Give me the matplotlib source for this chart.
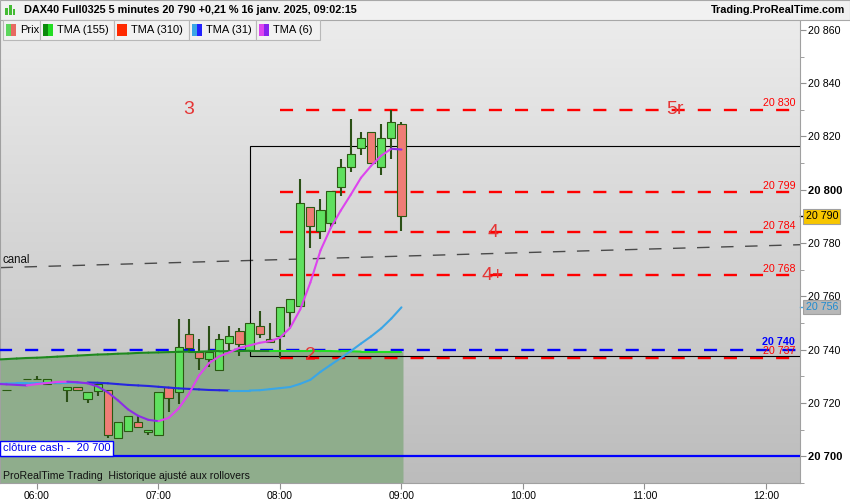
import matplotlib.pyplot as plt
import numpy as np
from matplotlib.patches import Rectangle
from matplotlib.transforms import blended_transform_factory

plt.rcParams['font.family'] = ['Liberation Sans', 'DejaVu Sans']
plt.rcParams['lines.scale_dashes'] = False

# 5 minute candles (DAX40 Full0325, 16 janv. 2025)
times = ['05:45', '05:55', '06:00', '06:05', '06:10', '06:15', '06:20', '06:25',
         '06:30', '06:35', '06:40', '06:45', '06:50', '06:55', '07:00', '07:05',
         '07:10', '07:15', '07:20', '07:25', '07:30', '07:35', '07:40', '07:45',
         '07:50', '07:55', '08:00', '08:05', '08:10', '08:15', '08:20', '08:25',
         '08:30', '08:35', '08:40', '08:45', '08:50', '08:55', '09:00']
opens = [20725, 20729, 20729, 20727, 20727.5, 20725, 20726, 20721.5,
         20724.5, 20725, 20707, 20709.5, 20713, 20709, 20708, 20726,
         20724, 20746, 20739, 20736.5, 20732.5, 20742.5, 20747, 20740,
         20749, 20744, 20745, 20754, 20756.5, 20793.5, 20784.5, 20787.5,
         20801, 20808.5, 20815.5, 20821.5, 20808.5, 20819.5, 20824.5]
highs = [20725, 20729, 20730, 20729, 20727.5, 20726, 20726, 20724,
         20727, 20725, 20713, 20715, 20715, 20710, 20724, 20726,
         20751.5, 20751.5, 20744, 20749, 20746, 20749, 20748, 20750,
         20754.5, 20750, 20756, 20759, 20804, 20793.5, 20796.5, 20799.5,
         20811.5, 20826.5, 20821.5, 20821.5, 20824.5, 20830, 20825.5]
lows = [20725, 20729, 20729, 20727, 20727.5, 20720.5, 20725, 20720,
        20722.5, 20707, 20707, 20709.5, 20711, 20708, 20708, 20716.5,
        20719.5, 20739, 20732.5, 20733.5, 20732.5, 20739, 20737.5, 20739,
        20744.5, 20743, 20737, 20748.5, 20756.5, 20778, 20781.5, 20786,
        20797.5, 20806.5, 20813, 20810, 20805.5, 20811.5, 20784.5]
closes = [20725, 20729, 20729, 20729, 20727.5, 20726, 20725, 20724,
          20727, 20708, 20713, 20715, 20711, 20710, 20724, 20722,
          20741, 20740.5, 20737, 20739, 20744, 20745, 20742, 20750,
          20746, 20743, 20756, 20759, 20795, 20786.5, 20792.5, 20799.5,
          20808.5, 20813.5, 20819.5, 20810, 20819.5, 20825.5, 20790]

# moving averages, one value per bar from 05:40 to 09:00
ma_start = '05:40'
tma155 = [20736.3, 20736.5, 20736.7, 20736.9, 20737.0, 20737.2, 20737.4, 20737.6,
          20737.8, 20738.0, 20738.2, 20738.3, 20738.5, 20738.6, 20738.8, 20738.9,
          20739.0, 20739.1, 20739.2, 20739.3, 20739.3, 20739.4, 20739.4, 20739.5,
          20739.5, 20739.6, 20739.6, 20739.6, 20739.6, 20739.6, 20739.6, 20739.6,
          20739.5, 20739.5, 20739.4, 20739.4, 20739.3, 20739.3, 20739.3, 20739.3, 20739.3]
tma31 = [20727.2, 20727.3, 20727.4, 20727.4, 20727.5, 20727.5, 20727.6, 20727.6,
         20727.7, 20727.7, 20727.6, 20727.4, 20727.1, 20726.8, 20726.6, 20726.4,
         20726.1, 20725.8, 20725.5, 20725.3, 20725.1, 20724.9, 20724.8, 20724.7,
         20724.7, 20724.7, 20724.8, 20725.2, 20725.6, 20726.0, 20727.2, 20728.7,
         20731.7, 20734.3, 20736.9, 20739.5, 20742.3, 20745.0, 20748.0, 20751.7, 20755.9]
tma6 = [20727.2, 20727.0, 20726.8, 20726.6, 20727.1, 20727.5, 20727.9, 20728.0,
        20727.8, 20727.4, 20726.2, 20724.0, 20721.0, 20717.6, 20715.2, 20713.7,
        20713.2, 20714.4, 20718.0, 20723.4, 20730.3, 20735.0, 20737.5, 20739.0,
        20740.7, 20741.6, 20742.6, 20743.2, 20744.5, 20748.2, 20755.1, 20765.2,
        20777.2, 20785.6, 20792.2, 20798.2, 20804.5, 20809.0, 20812.8, 20815.4, 20815.1]
tma155_bright_from = '07:55'

# drawn levels
levels = [20830, 20799, 20784, 20768, 20737]
level_labels = ['20 830', '20 799', '20 784', '20 768', '20 737']
levels_from = '08:00'
support = 20740
cash_close = 20700
box_from, box_low, box_high = '07:45', 20737.5, 20816.5
canal_times = ['05:42', '12:17']
canal_prices = [20770.8, 20779.4]
wave_marks = [('3', '07:15', 20830), ('5r', '11:15', 20830), ('4', '09:45', 20784),
              ('4+', '09:45', 20768), ('2', '08:15', 20738)]

hour_ticks = ['06:00', '07:00', '08:00', '09:00', '10:00', '11:00', '12:00']
price_ticks = [20700, 20720, 20740, 20760, 20780, 20800, 20820, 20840, 20860]


def bar_index(t):
    h, m = map(int, t.split(':'))
    return ((h - 6) * 60 + m) / 5


x = np.array([bar_index(t) for t in times])
o, h, l, c = map(np.array, (opens, highs, lows, closes))
xm = bar_index(ma_start) + np.arange(len(tma155))

fig = plt.figure(figsize=(8.5, 5), dpi=100, facecolor='white')
ax = fig.add_axes([0, 17 / 500, 800 / 850, 463 / 500])
ax.set_xlim(-3.65, 75.36)
ax.set_ylim(20690.3, 20863.7)

# grey gradient background
grad = np.linspace(0, 1, 256).reshape(-1, 1)
ax.imshow(grad, extent=[0, 1, 0, 1], transform=ax.transAxes, aspect='auto',
          cmap=plt.matplotlib.colors.LinearSegmentedColormap.from_list('bg', ['#ececec', '#bcbcbc']),
          zorder=0)

# green zone under TMA(155)
xf = np.append(xm, x[-1] + 0.15)
yf = np.append(tma155, tma155[-1])
ax.fill_between(xf, 20680, yf, color='#8fad8c', zorder=1, lw=0)

# canal
ax.plot([bar_index(t) for t in canal_times], canal_prices, color='#4a4a4a', lw=1.0,
        linestyle=(0, (9, 8.3)), zorder=2)
ax.text(-3.45, 20771.4, 'canal', fontsize=8.3, color='#111111', va='bottom', zorder=6)

# horizontal levels
xr = [bar_index(levels_from), 80]
for lv in levels:
    ax.plot(xr, [lv, lv], color='#ff0000', lw=1.7, linestyle=(0, (9.4, 9.4)), zorder=3)
ax.plot([-3.65, 80], [support, support], color='#0000ff', lw=1.7,
        linestyle=(0.7, (9.4, 9.4)), zorder=3)
ax.plot([-3.65, 80], [cash_close, cash_close], color='#0000ff', lw=1.6, zorder=3)
ax.add_patch(Rectangle((bar_index(box_from) + 0.05, box_low), 80, box_high - box_low,
                       fill=False, ec='black', lw=0.8, zorder=3))

for lv, lab in zip(levels, level_labels):
    ax.text(74.9, lv + 0.5, lab, color='#ff0000', fontsize=7.7, ha='right', va='bottom', zorder=6)
ax.text(74.9, support + 0.9, '20 740', color='#0000ff', fontsize=7.7, fontweight='bold',
        ha='right', va='bottom', zorder=6)

for txt, t, p in wave_marks:
    ax.text(bar_index(t), p, txt, color='#e53535', fontsize=14, ha='center', va='center', zorder=6)

# candles
up = c >= o
wick_col = '#2b5016'
ax.vlines(x, l, h, color=wick_col, lw=1.5, zorder=4)
ax.bar(x, np.abs(c - o), bottom=np.minimum(o, c), width=0.82,
       color=np.where(up, '#5fe05f', '#ef7d76'), edgecolor='#2b5a12', lw=0.8, zorder=4.5)


def colored_line(xs, ys, colors, lw=1.5):
    for i in range(len(xs) - 1):
        ax.plot(xs[i:i + 2], ys[i:i + 2], color=colors[i], lw=lw,
                solid_capstyle='round', zorder=5)


split = bar_index(tma155_bright_from)
colored_line(xm, tma155, ['#1f8a1f' if xv < split else '#22dd22' for xv in xm[:-1]])
rise31 = np.diff(tma31) >= 0
colored_line(xm, tma31, np.where(rise31, '#3aa6e6', '#2626e0'))
rise6 = np.diff(tma6) >= 0
colored_line(xm, tma6, np.where(rise6, '#dd44ee', '#8b2ce6'))

trans = blended_transform_factory(ax.transAxes, ax.transData)
ax.text(0.004, cash_close + 3.0, 'clôture cash -  20 700', transform=trans, color='#0000ee',
        fontsize=8, va='center', zorder=7,
        bbox=dict(boxstyle='square,pad=0.25', fc='white', ec='#0000ff', lw=1))
ax.text(0.004, 0.004, 'ProRealTime Trading  Historique ajusté aux rollovers',
        transform=ax.transAxes, fontsize=7.6, color='#111111', va='bottom', zorder=7)

# axes
ax.yaxis.tick_right()
ax.set_yticks(price_ticks)
ax.set_yticklabels([f'{p:,}'.replace(',', ' ') for p in price_ticks])
ax.set_yticks(np.arange(20690, 20870, 10), minor=True)
ax.tick_params(axis='y', which='major', length=4, color='#909090', labelsize=7.7, pad=2)
ax.tick_params(axis='y', which='minor', length=3, color='#909090')
for lab, p in zip(ax.get_yticklabels(), price_ticks):
    if p % 100 == 0:
        lab.set_fontweight('bold')
        lab.set_fontsize(8)
ax.set_xticks([bar_index(t) for t in hour_ticks])
ax.set_xticklabels(hour_ticks)
ax.tick_params(axis='x', length=4, color='#909090', labelsize=7.5, pad=1.5)
for s in ['left', 'bottom', 'right']:
    ax.spines[s].set_color('#a0a0a0')
ax.spines['top'].set_visible(False)

# last price boxes on the scale
ax.text(1.007, closes[-1], '20 790', transform=trans, fontsize=7.7, va='center', ha='left',
        clip_on=False, bbox=dict(boxstyle='square,pad=0.2', fc='#f7c600', ec='#a0a0a0', lw=0.8))
ax.text(1.007, tma31[-1], '20 756', transform=trans, fontsize=7.7, va='center', ha='left',
        color='#1e8bd0', clip_on=False,
        bbox=dict(boxstyle='square,pad=0.2', fc='#b8b8b8', ec='#a0a0a0', lw=0.8))
ax.plot([1.0, 1.006], [closes[-1]] * 2, transform=trans, color='black', lw=1, clip_on=False)
ax.plot([1.0, 1.006], [tma31[-1]] * 2, transform=trans, color='#3aa6e6', lw=1, clip_on=False)


# header
def fx(px):
    return px / 850


def fy(py):
    return 1 - py / 500


fig.patches.append(Rectangle((0, fy(19.5)), 1, 19.5 / 500, transform=fig.transFigure,
                             fc='#f1f1f1', ec='#a8a8a8', lw=0.8, zorder=10))
for i, hh in enumerate([7, 10, 6]):
    fig.patches.append(Rectangle((fx(5 + i * 4), fy(15)), 2.5 / 850, hh / 500,
                                 transform=fig.transFigure, fc='#44bb33', ec='none', zorder=11))
fig.text(fx(24), fy(10), 'DAX40 Full0325 5 minutes 20 790 +0,21 % 16 janv. 2025, 09:02:15',
         fontsize=7.8, fontweight='bold', va='center', zorder=12)
fig.text(fx(845), fy(10), 'Trading.ProRealTime.com', fontsize=7.8, fontweight='bold',
         va='center', ha='right', zorder=12)

legend = [('Prix', 3, 40, '#5cd65c', '#e86a62'),
          ('TMA (155)', 40, 114, '#0a8a0a', '#22dd22'),
          ('TMA (310)', 114, 189, '#ff2a00', '#ff2a00'),
          ('TMA (31)', 189, 256, '#3aa6e6', '#2222ff'),
          ('TMA (6)', 256, 320, '#dd44ee', '#8822ee')]
for name, x0, x1, c1, c2 in legend:
    fig.patches.append(Rectangle((fx(x0), fy(39.5)), (x1 - x0) / 850, 19 / 500,
                                 transform=fig.transFigure, fc='#f2f2f2', ec='#b8b8b8',
                                 lw=0.8, zorder=10))
    fig.patches.append(Rectangle((fx(x0 + 3), fy(35.5)), 5 / 850, 11 / 500,
                                 transform=fig.transFigure, fc=c1, ec='none', zorder=11))
    fig.patches.append(Rectangle((fx(x0 + 8), fy(35.5)), 5 / 850, 11 / 500,
                                 transform=fig.transFigure, fc=c2, ec='none', zorder=11))
    fig.text(fx(x0 + 17), fy(30), name, fontsize=8, va='center', zorder=12)

fig.savefig('out.png', dpi=100)
